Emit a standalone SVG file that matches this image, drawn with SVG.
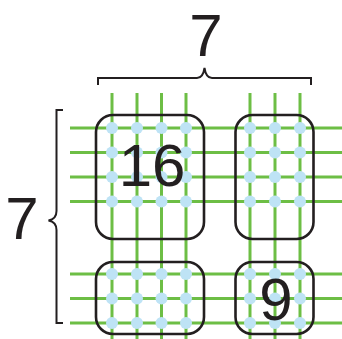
<svg xmlns="http://www.w3.org/2000/svg" width="342" height="339" viewBox="0 0 342 339">
  <style>
    .g { stroke: #6dbe45; stroke-width: 3; fill: none; }
    .d { fill: #bee3f5; }
    .box { fill: none; stroke: #231f20; stroke-width: 2.6; }
    .br { fill: none; stroke: #231f20; stroke-width: 2; }
    .t { font-family: "Liberation Sans", Arial, sans-serif; font-size: 60px; fill: #231f20; text-anchor: middle; }
  </style>
  <rect width="342" height="339" fill="#ffffff"/>
  <g id="grid">
    <g class="g">
      <line x1="112" y1="93" x2="112" y2="339"/>
      <line x1="137" y1="93" x2="137" y2="339"/>
      <line x1="161.5" y1="93" x2="161.5" y2="339"/>
      <line x1="186" y1="93" x2="186" y2="339"/>
      <line x1="250" y1="93" x2="250" y2="339"/>
      <line x1="275" y1="93" x2="275" y2="339"/>
      <line x1="300" y1="93" x2="300" y2="339"/>
      <line x1="70" y1="128" x2="342" y2="128"/>
      <line x1="70" y1="152.5" x2="342" y2="152.5"/>
      <line x1="70" y1="177" x2="342" y2="177"/>
      <line x1="70" y1="201.5" x2="342" y2="201.5"/>
      <line x1="70" y1="274" x2="342" y2="274"/>
      <line x1="70" y1="298.5" x2="342" y2="298.5"/>
      <line x1="70" y1="323" x2="342" y2="323"/>
    </g>
    <g class="d">
      <circle cx="112" cy="128" r="6"/><circle cx="137" cy="128" r="6"/><circle cx="161.5" cy="128" r="6"/><circle cx="186" cy="128" r="6"/>
      <circle cx="112" cy="152.5" r="6"/><circle cx="137" cy="152.5" r="6"/><circle cx="161.5" cy="152.5" r="6"/><circle cx="186" cy="152.5" r="6"/>
      <circle cx="112" cy="177" r="6"/><circle cx="137" cy="177" r="6"/><circle cx="161.5" cy="177" r="6"/><circle cx="186" cy="177" r="6"/>
      <circle cx="112" cy="201.5" r="6"/><circle cx="137" cy="201.5" r="6"/><circle cx="161.5" cy="201.5" r="6"/><circle cx="186" cy="201.5" r="6"/>
      <circle cx="250" cy="128" r="6"/><circle cx="275" cy="128" r="6"/><circle cx="300" cy="128" r="6"/>
      <circle cx="250" cy="152.5" r="6"/><circle cx="275" cy="152.5" r="6"/><circle cx="300" cy="152.5" r="6"/>
      <circle cx="250" cy="177" r="6"/><circle cx="275" cy="177" r="6"/><circle cx="300" cy="177" r="6"/>
      <circle cx="250" cy="201.5" r="6"/><circle cx="275" cy="201.5" r="6"/><circle cx="300" cy="201.5" r="6"/>
      <circle cx="112" cy="274" r="6"/><circle cx="137" cy="274" r="6"/><circle cx="161.5" cy="274" r="6"/><circle cx="186" cy="274" r="6"/>
      <circle cx="112" cy="298.5" r="6"/><circle cx="137" cy="298.5" r="6"/><circle cx="161.5" cy="298.5" r="6"/><circle cx="186" cy="298.5" r="6"/>
      <circle cx="112" cy="323" r="6"/><circle cx="137" cy="323" r="6"/><circle cx="161.5" cy="323" r="6"/><circle cx="186" cy="323" r="6"/>
      <circle cx="250" cy="274" r="6"/><circle cx="275" cy="274" r="6"/><circle cx="300" cy="274" r="6"/>
      <circle cx="250" cy="298.5" r="6"/><circle cx="275" cy="298.5" r="6"/><circle cx="300" cy="298.5" r="6"/>
      <circle cx="250" cy="323" r="6"/><circle cx="275" cy="323" r="6"/><circle cx="300" cy="323" r="6"/>
    </g>
  </g>
  <g id="box16">
    <rect class="box" x="96" y="115" width="108" height="124" rx="17"/>
    <text class="t" x="152" y="186">16</text>
  </g>
  <g id="boxTR">
    <rect class="box" x="235.5" y="115" width="78" height="124" rx="17"/>
  </g>
  <g id="boxBL">
    <rect class="box" x="96" y="262" width="108" height="72" rx="17"/>
  </g>
  <g id="box9">
    <rect class="box" x="235.5" y="262" width="78" height="72" rx="17"/>
    <text class="t" x="276" y="320">9</text>
  </g>
  <g id="braces">
    <path class="br" d="M98,85 V78 H197 Q203,78 204.5,68 Q206,78 212,78 H311 V85"/>
    <path class="br" d="M63,110 H56.5 V211 Q56.5,219 48.5,220.5 Q56.5,222 56.5,230 V323 H63"/>
  </g>
  <g id="labels">
    <text class="t" x="206" y="56">7</text>
    <text class="t" x="22" y="239">7</text>
  </g>
</svg>
